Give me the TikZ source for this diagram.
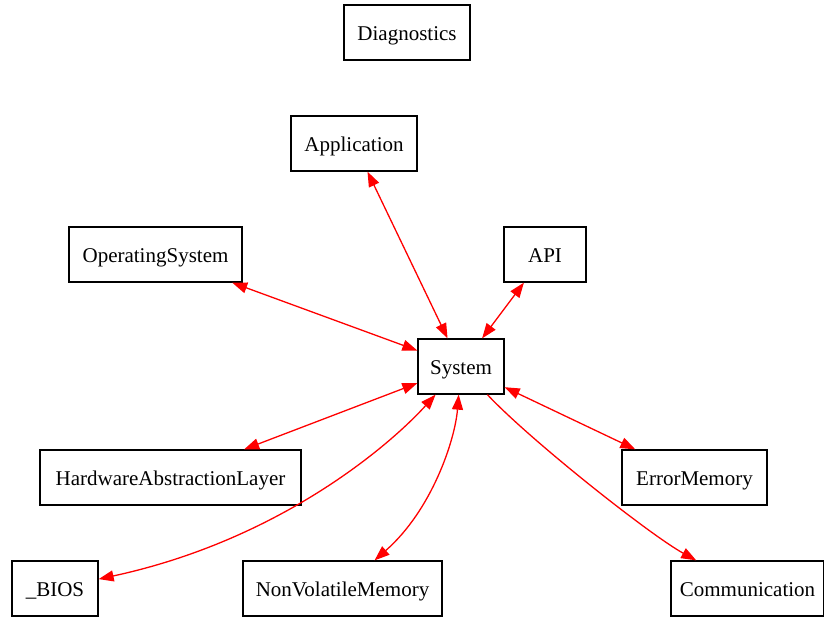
\documentclass[tikz,border=0pt]{standalone}
\usepackage{fontspec}
\setmainfont{Liberation Serif}
\usetikzlibrary{arrows.meta}
\tikzset{
  box/.style={draw=black, line width=1.3pt, rectangle, inner sep=0pt,
              minimum height=55pt, text height=15.5pt, text depth=0pt,
              font=\fontsize{21}{25}\selectfont},
  link/.style={draw=red, line width=1.3pt},
  tip/.tip={Triangle[length=15pt,width=11pt]},
  both/.style={link, tip-tip},
  fwd/.style={link, -tip}
}
\begin{document}
\begin{tikzpicture}[x=1pt, y=-1pt]
\useasboundingbox (0,0) rectangle (824,616);
% component boxes
\node[box, minimum width=126pt] (diag) at (407,32.5)  {Diagnostics};
\node[box, minimum width=126pt] (app)  at (354,143.5) {Application};
\node[box, minimum width=173pt] (os)   at (155.5,254.5) {OperatingSystem};
\node[box, minimum width=82pt]  (api)  at (545,254.5) {API};
\node[box, minimum width=86pt]  (sys)  at (461,366.5) {System};
\node[box, minimum width=261pt] (hal)  at (170.5,477.5) {HardwareAbstractionLayer};
\node[box, minimum width=145pt] (err)  at (694.5,477.5) {ErrorMemory};
\node[box, minimum width=86pt]  (bios) at (55,588.5)  {\_BIOS};
\node[box, minimum width=199pt] (nvm)  at (342.5,588.5) {NonVolatileMemory};
\node[box, minimum width=153pt] (com)  at (747.5,588.5) {Communication};
% connections
\draw[both] (app) -- (sys);
\draw[both] (os) -- (sys);
\draw[both] (api) -- (sys);
\draw[both] (sys) -- (hal);
\draw[both] (sys) -- (err);
\draw[both] (sys) .. controls (390,445) and (280,540) .. (bios);
\draw[both] (sys) .. controls (455,440) and (432,510) .. (nvm);
\draw[fwd]  (sys) .. controls (530,440) and (650,535) .. (com);
\end{tikzpicture}
\end{document}
